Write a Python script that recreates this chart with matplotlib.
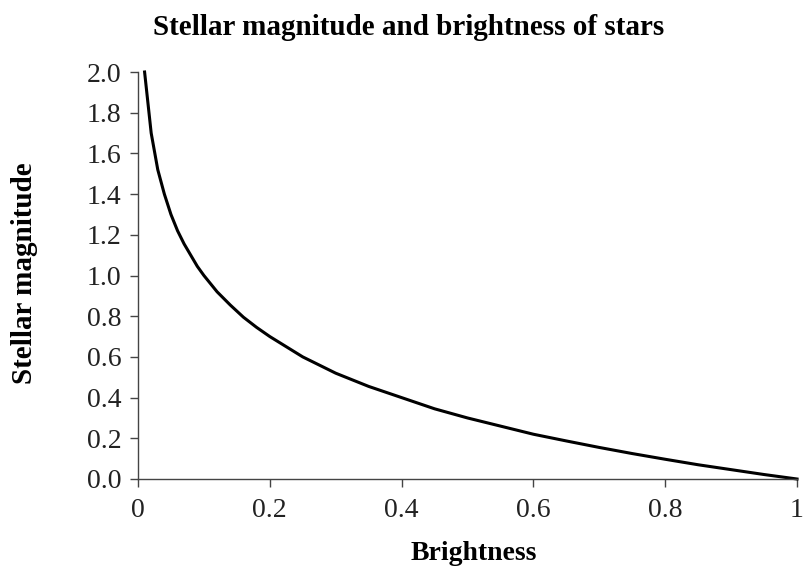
import matplotlib
matplotlib.use('Agg')
import matplotlib.pyplot as plt

# Brightness relative to the reference star, and the matching magnitude
brightness = [0.01, 0.02, 0.03, 0.04, 0.05, 0.06, 0.07, 0.08, 0.09, 0.1,
              0.12, 0.14, 0.16, 0.18, 0.2, 0.25, 0.3, 0.35, 0.4, 0.45,
              0.5, 0.55, 0.6, 0.65, 0.7, 0.75, 0.8, 0.85, 0.9, 0.95, 1.0]
magnitude = [2.0, 1.70, 1.52, 1.40, 1.30, 1.22, 1.155, 1.10, 1.045, 1.0,
             0.92, 0.855, 0.795, 0.745, 0.70, 0.60, 0.52, 0.455, 0.40, 0.345,
             0.30, 0.26, 0.22, 0.187, 0.155, 0.125, 0.097, 0.07, 0.046, 0.022, 0.0]

x_ticks = [0, 0.2, 0.4, 0.6, 0.8, 1]
x_labels = ['0', '0.2', '0.4', '0.6', '0.8', '1']
y_ticks = [0.0, 0.2, 0.4, 0.6, 0.8, 1.0, 1.2, 1.4, 1.6, 1.8, 2.0]

plt.rcParams['font.family'] = ['Liberation Serif', 'DejaVu Serif']

fig = plt.figure(figsize=(8.05, 5.66), dpi=100)
ax = fig.add_axes([138 / 805, 1 - 479 / 566, (797 - 138) / 805, (479 - 72) / 566])

ax.plot(brightness, magnitude, color='black', linewidth=2.2, clip_on=False)

ax.set_xlim(0, 1)
ax.set_ylim(0, 2)
ax.set_xticks(x_ticks)
ax.set_xticklabels(x_labels)
ax.set_yticks(y_ticks)
ax.set_yticklabels([f'{v:.1f}' for v in y_ticks])

for side in ('top', 'right'):
    ax.spines[side].set_visible(False)
for side in ('left', 'bottom'):
    ax.spines[side].set_color('#444444')
    ax.spines[side].set_linewidth(1.0)

ax.tick_params(axis='both', direction='out', length=6, width=1.0,
               color='#444444', labelsize=20, labelcolor='#222222')
ax.tick_params(axis='y', pad=6)
ax.tick_params(axis='x', pad=8)

# titles placed in figure pixels
fig.text(0.507, 1 - 35 / 566, 'Stellar magnitude and brightness of stars',
         fontsize=21, fontweight='bold', ha='center', va='baseline')
fig.text(474 / 805, 1 - 560 / 566, 'Brightness',
         fontsize=20, fontweight='bold', ha='center', va='baseline')
fig.text(25 / 805, 1 - 273 / 566, 'Stellar magnitude', rotation=90,
         fontsize=21, fontweight='bold', ha='center', va='center')

fig.savefig('out.png', dpi=100)
